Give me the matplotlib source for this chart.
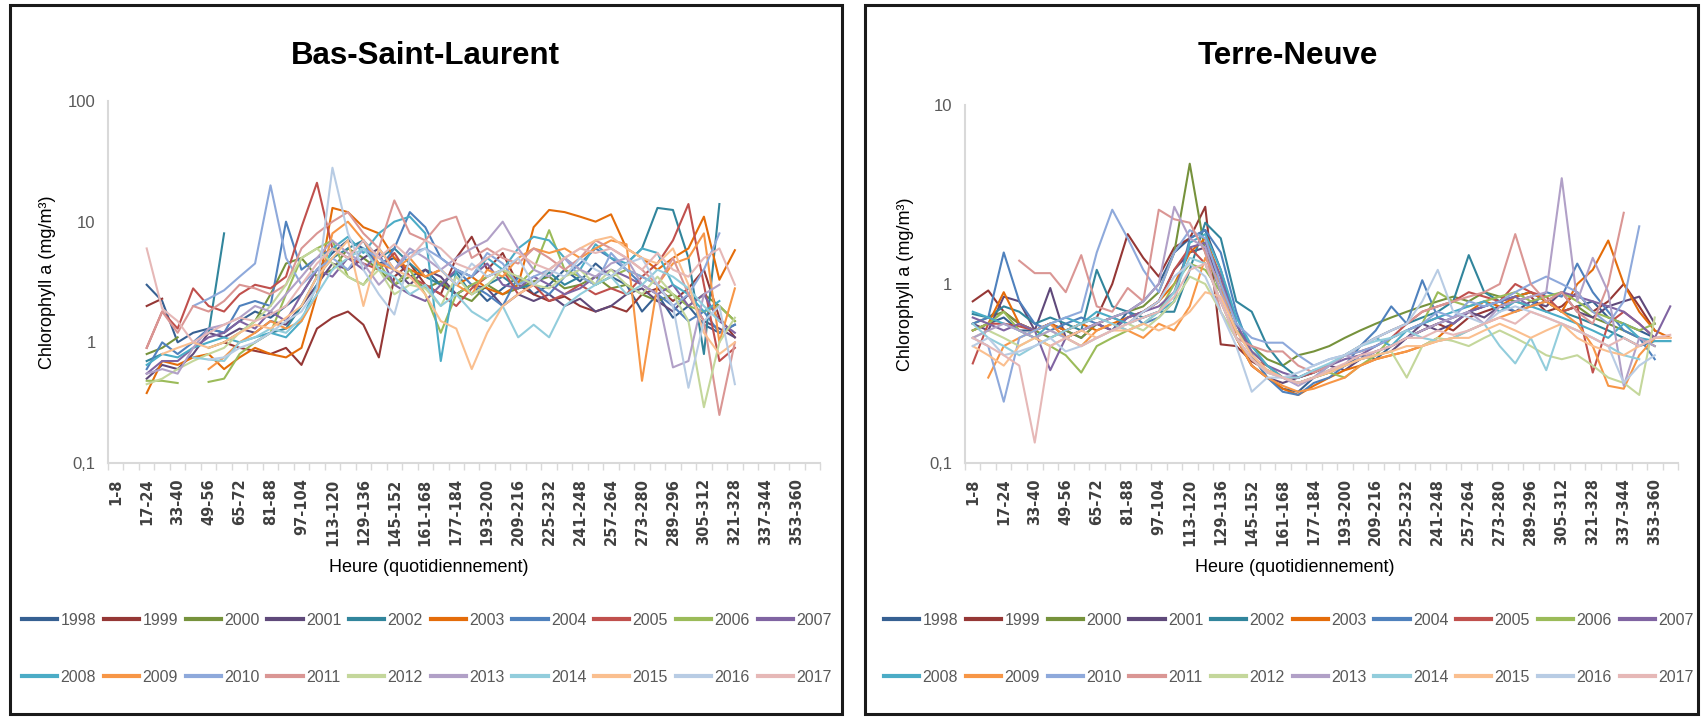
import numpy as np
import matplotlib
matplotlib.use("Agg")
import matplotlib.pyplot as plt
from matplotlib.patches import Rectangle
from matplotlib.ticker import NullLocator

# 8-day periods on the x axis
periods = ['1-8', '9-16', '17-24', '25-32', '33-40', '41-48', '49-56', '57-64',
           '65-72', '73-80', '81-88', '89-96', '97-104', '105-112', '113-120',
           '121-128', '129-136', '137-144', '145-152', '153-160', '161-168',
           '169-176', '177-184', '185-192', '193-200', '201-208', '209-216',
           '217-224', '225-232', '233-240', '241-248', '249-256', '257-264',
           '265-272', '273-280', '281-288', '289-296', '297-304', '305-312',
           '313-320', '321-328', '329-336', '337-344', '345-352', '353-360',
           '361-366']

years = ['1998', '1999', '2000', '2001', '2002', '2003', '2004', '2005', '2006', '2007',
         '2008', '2009', '2010', '2011', '2012', '2013', '2014', '2015', '2016', '2017']

colors = ['#366092', '#953735', '#76923C', '#5F497A', '#31859C', '#E46C0A', '#4F81BD',
          '#C0504D', '#9BBB59', '#8064A2', '#4BACC6', '#F79646', '#8EA9DB', '#DA9694',
          '#C4D79B', '#B1A0C7', '#92CDDC', '#FABF8F', '#B8CCE4', '#E6B8B7']

# ---- Bas-Saint-Laurent, periods 17-24 (index 2) to 321-328 (index 40) ----
bsl_start = 2
bsl_1998 = [3.0, 2.2, 1.0, 1.2, 1.3, 1.2, 1.5, 1.8, 1.6, 2.0,
            2.5, 4.0, 5.5, 7.0, 6.0, 4.5, 5.0, 3.5, 4.0, 3.0,
            2.5, 3.0, 2.2, 2.8, 3.5, 2.5, 3.0, 4.0, 3.2, 4.5,
            3.5, 3.0, 1.8, 2.5, 1.6, 2.0, 1.4, 1.2, 1.4]
bsl_1999 = [2.0, 2.3, None, None, None, 1.0, 0.9, 0.85, 0.8, 0.9,
            0.65, 1.3, 1.6, 1.8, 1.4, 0.75, 3.5, 4.5, 3.0, 2.5,
            5.0, 7.5, 4.0, 5.5, 3.0, 2.5, 2.2, 2.4, 2.0, 1.8,
            2.0, 1.8, 2.5, 2.8, 2.2, 2.8, 4.0, 1.6, 1.1]
bsl_2000 = [0.8, 0.9, 1.1, None, 0.9, 1.0, 1.2, 1.5, 2.5, 4.5,
            5.0, 3.5, 4.0, 6.0, 5.0, 4.0, 3.0, 3.5, 2.8, 3.2,
            2.5, 2.2, 3.0, 2.5, 2.8, 3.2, 3.5, 2.8, 3.0, 3.5,
            2.8, 3.0, 2.5, 2.2, 2.5, 2.0, 2.5, 2.0, 1.5]
bsl_2001 = [0.5, 0.65, 0.6, 0.8, 1.2, 1.1, 1.3, 1.2, 1.5, 1.4,
            2.0, 3.0, 4.5, 4.0, 5.0, 6.0, 4.0, 3.0, 4.0, 3.5,
            2.5, 3.0, 2.8, 2.0, 2.5, 2.2, 2.5, 2.0, 2.3, 1.8,
            2.0, 2.5, 2.8, 2.2, 1.8, 2.5, 1.5, 1.3, 1.1]
bsl_2002 = [0.7, 0.8, None, None, 1.2, 8.0, None, 1.0, 1.2, 1.3,
            2.0, 3.5, 5.0, 6.0, 7.0, 5.0, 6.0, 4.5, 3.5, 3.0,
            3.8, 2.5, 3.0, 3.5, 2.8, 3.0, 3.8, 3.0, 3.5, 3.0,
            3.5, 4.5, 6.0, 13.0, 12.5, 5.0, 0.8, 14.0, None]
bsl_2003 = [0.38, 0.7, 0.65, 0.75, 0.8, 0.6, 0.75, 0.9, 0.8, 0.75,
            0.9, 2.5, 13.0, 12.0, 9.0, 8.0, 5.0, 4.0, 3.5, 4.0,
            3.0, 3.5, 2.8, 2.5, 3.0, 9.0, 12.5, 12.0, 11.0, 10.0,
            11.5, 6.0, 5.0, 4.0, 5.0, 6.0, 11.0, 3.3, 5.8]
bsl_2004 = [0.6, 1.0, 0.8, 1.0, 1.3, 1.2, 2.0, 2.2, 2.0, 10.0,
            4.0, 5.0, 6.0, 5.0, 7.0, 4.0, 6.0, 12.0, 9.0, 5.0,
            4.0, 3.0, 2.5, 2.0, 3.5, 3.0, 2.5, 3.5, 4.5, 6.0,
            5.0, 4.0, 3.0, 2.5, 2.0, 1.5, 1.8, 1.2, 1.4]
bsl_2005 = [0.9, 1.8, 1.3, 2.8, 2.0, 1.8, 2.5, 3.0, 2.8, 3.5,
            9.0, 21.0, 6.0, 5.0, 4.5, 4.0, 5.5, 3.5, 3.0, 2.5,
            2.0, 2.8, 3.5, 4.0, 2.5, 3.0, 2.2, 2.5, 3.0, 2.5,
            2.8, 2.5, 3.5, 4.5, 7.0, 14.0, 3.0, 0.7, 0.9]
bsl_2006 = [0.48, 0.48, 0.46, None, 0.47, 0.5, 0.8, 1.0, 1.2, 2.5,
            5.0, 6.0, 7.0, 3.5, 3.0, 4.5, 3.0, 4.0, 2.5, 1.2,
            2.5, 3.0, 3.5, 4.0, 3.0, 4.0, 8.5, 4.0, 3.5, 3.0,
            3.5, 4.0, 3.5, 3.0, 2.5, 2.0, 1.8, 2.0, 1.5]
bsl_2007 = [0.55, 0.7, 0.7, 0.9, 1.1, 1.2, 1.5, 1.3, 1.8, 1.5,
            2.5, 4.0, 3.5, 5.0, 4.0, 5.5, 3.0, 2.5, 2.2, 3.0,
            4.0, 3.5, 4.5, 3.0, 2.8, 3.5, 3.0, 2.5, 2.8, 3.5,
            4.0, 3.5, 3.0, 2.5, 3.0, 2.0, 2.5, 1.5, 1.2]
bsl_2008 = [0.65, 0.8, 0.75, 0.9, 1.0, 1.1, 1.0, 1.1, 1.2, 1.1,
            1.5, 3.0, 6.0, 7.5, 5.5, 8.0, 10.0, 11.0, 8.0, 0.7,
            4.0, 3.5, 5.0, 4.0, 6.0, 7.5, 7.0, 5.0, 4.0, 6.5,
            5.0, 4.5, 6.0, 5.5, 3.0, 2.5, 1.8, 2.2, None]
bsl_2009 = [None, None, None, None, 0.6, 0.75, 1.0, 1.2, 1.5, 1.3,
            1.5, 2.5, 8.0, 10.0, 7.0, 4.5, 4.0, 5.0, 3.5, 4.0,
            3.0, 2.5, 4.0, 3.5, 5.0, 6.0, 5.5, 6.0, 5.0, 6.0,
            7.0, 6.5, 0.48, 3.0, 4.5, 5.0, 8.0, 1.0, 2.8]
bsl_2010 = [None, None, None, 2.0, 2.3, 2.7, 3.5, 4.5, 20.0, 5.0,
            3.0, 4.0, 5.0, 4.0, 6.0, 5.0, 4.0, 5.5, 6.0, 5.0,
            4.0, 3.5, 5.5, 4.5, 3.0, 3.5, 4.0, 5.0, 3.5, 3.0,
            5.5, 4.0, 3.5, 3.0, 2.0, 2.5, 4.0, 8.0, None]
bsl_2011 = [0.9, 1.8, 1.2, 2.0, 1.8, 2.2, 3.0, 2.8, 2.5, 3.0,
            6.0, 8.0, 10.0, 12.0, 8.0, 6.0, 15.0, 8.0, 7.0, 10.0,
            11.0, 5.0, 6.0, 5.0, 4.5, 6.0, 5.0, 4.0, 5.0, 7.0,
            6.0, 5.0, 4.0, 3.0, 5.0, 2.5, 1.5, 0.25, 1.0]
bsl_2012 = [0.45, 0.5, 0.6, 0.7, 0.8, 0.9, 1.2, 1.5, 2.0, 3.0,
            5.0, 6.0, 4.5, 3.5, 3.0, 4.0, 2.5, 3.0, 2.8, 2.0,
            3.5, 2.5, 3.0, 4.0, 3.5, 3.0, 2.8, 3.5, 4.0, 3.0,
            4.0, 3.0, 2.5, 3.5, 2.5, 1.5, 0.29, 1.0, 1.6]
bsl_2013 = [0.55, 0.6, 0.55, 0.9, 1.3, 1.4, 1.6, 2.0, 1.8, 2.5,
            3.5, 5.0, 7.0, 5.5, 4.5, 3.0, 4.0, 6.0, 5.0, 4.0,
            5.0, 6.0, 7.0, 10.0, 6.0, 4.0, 3.5, 5.0, 4.0, 3.5,
            4.5, 5.0, 3.0, 2.5, 0.62, 0.7, 2.5, 3.0, None]
bsl_2014 = [None, None, None, 0.75, 0.72, 0.7, 1.0, 1.1, 1.3, 1.2,
            1.6, 2.5, 4.0, 5.0, 6.0, 4.0, 3.5, 2.5, 3.0, 2.0,
            2.5, 1.8, 1.5, 2.0, 1.1, 1.4, 1.1, 2.0, 2.5, 3.0,
            3.5, 2.5, 3.0, 4.0, 3.5, 2.8, 2.0, 1.5, None]
bsl_2015 = [None, 0.8, 0.9, 1.0, 0.9, 1.0, 1.2, 1.4, 1.3, 1.6,
            2.0, 3.5, 5.0, 7.0, 2.0, 6.0, 4.0, 3.5, 2.5, 1.5,
            1.3, 0.6, 1.2, 2.0, 2.5, 3.0, 4.0, 5.0, 6.0, 7.0,
            7.5, 6.0, 5.0, 4.5, 6.0, 3.0, 1.2, 0.8, 1.0]
bsl_2016 = [None, None, None, None, 0.72, 0.75, 0.9, 1.0, 1.2, 1.5,
            1.8, 2.8, 28.0, 8.0, 4.0, 2.5, 1.7, 5.0, 6.0, 4.0,
            3.0, 4.5, 3.5, 4.0, 5.0, 3.0, 4.0, 3.5, 5.0, 4.0,
            3.5, 4.5, 5.0, 3.0, 2.0, 0.42, 1.5, 2.0, 0.45]
bsl_2017 = [6.0, 1.9, 1.5, 1.0, 1.2, 1.4, 1.6, 1.5, 1.7, 2.0,
            3.0, 4.5, 6.0, 5.0, 7.0, 5.0, 6.5, 5.0, 7.0, 6.0,
            4.5, 4.0, 5.0, 6.0, 5.5, 4.5, 4.0, 5.0, 6.0, 5.5,
            6.0, 5.0, 4.0, 5.5, 4.0, 3.5, 5.0, 6.0, 3.0]

# ---- Terre-Neuve, all 46 periods ----
tn_start = 0
tn_1998 = [0.55, 0.6, 0.65, 0.55, 0.55, 0.6, 0.55, 0.5, 0.6, 0.55,
           0.7, 0.8, 1.0, 1.5, 1.8, 2.0, 1.2, 0.6, 0.4, 0.3,
           0.26, 0.25, 0.3, 0.32, 0.35, 0.4, 0.38, 0.45, 0.5, 0.55,
           0.6, 0.65, 0.7, 0.75, 0.8, 0.85, 0.9, 0.8, 0.7, 0.75,
           0.8, 0.65, 0.6, 0.55, 0.5, None]
tn_1999 = [0.8, 0.92, 0.7, 0.6, 0.55, 0.6, 0.55, 0.6, 0.65, 1.0,
           1.9, 1.4, 1.1, 1.6, 1.8, 2.7, 0.46, 0.45, 0.37, 0.33,
           0.3, 0.28, 0.3, 0.33, 0.35, 0.38, 0.42, 0.45, 0.5, 0.55,
           0.6, 0.55, 0.65, 0.7, 0.75, 0.8, 0.85, 0.7, 0.75, 0.9,
           0.7, 0.8, 1.0, 0.75, 0.55, None]
tn_2000 = [0.6, 0.65, 0.7, 0.6, 0.55, 0.5, 0.55, 0.5, 0.6, 0.65,
           0.7, 0.75, 0.9, 1.5, 4.7, 1.5, 0.9, 0.55, 0.45, 0.38,
           0.35, 0.4, 0.42, 0.45, 0.5, 0.55, 0.6, 0.65, 0.7, 0.75,
           0.8, 0.85, 0.8, 0.9, 0.85, 0.8, 0.75, 0.8, 0.7, 0.75,
           0.65, 0.6, 0.55, 0.5, 0.45, None]
tn_2001 = [0.6, 0.55, 0.85, 0.8, 0.55, 0.95, 0.5, 0.55, 0.6, 0.55,
           0.65, 0.7, 0.8, 1.2, 1.5, 1.6, 1.0, 0.5, 0.35, 0.3,
           0.28, 0.3, 0.32, 0.35, 0.33, 0.38, 0.4, 0.42, 0.5, 0.6,
           0.55, 0.6, 0.7, 0.65, 0.75, 0.7, 0.8, 0.75, 0.9, 0.7,
           0.65, 0.75, 0.8, 0.85, 0.6, None]
tn_2002 = [0.68, 0.65, 0.75, 0.7, 0.6, 0.65, 0.6, 0.55, 1.2, 0.75,
           0.7, 0.65, 0.7, 0.7, 1.2, 2.2, 1.8, 0.8, 0.7, 0.45,
           0.35, 0.3, 0.32, 0.35, 0.4, 0.45, 0.5, 0.55, 0.6, 0.65,
           0.7, 0.8, 1.45, 0.9, 0.8, 0.85, 0.9, 0.8, 0.7, 0.65,
           0.6, 0.55, 0.5, 0.45, 0.48, 0.48]
tn_2003 = [0.55, 0.6, 0.9, 0.6, 0.55, 0.6, 0.55, 0.6, 0.55, 0.6,
           0.65, 0.7, 0.8, 1.0, 1.5, 1.8, 1.1, 0.5, 0.35, 0.3,
           0.26, 0.24, 0.27, 0.3, 0.33, 0.35, 0.38, 0.4, 0.42, 0.45,
           0.5, 0.6, 0.7, 0.8, 0.75, 0.85, 0.9, 0.8, 0.7, 1.0,
           1.2, 1.75, 1.0, 0.7, 0.55, 0.5]
tn_2004 = [0.6, 0.65, 1.5, 0.8, 0.6, 0.55, 0.6, 0.65, 0.6, 0.65,
           0.7, 0.6, 0.65, 0.8, 1.8, 2.0, 1.5, 0.7, 0.4, 0.3,
           0.25, 0.24, 0.28, 0.3, 0.35, 0.45, 0.55, 0.75, 0.6, 1.05,
           0.65, 0.6, 0.7, 0.75, 0.8, 0.7, 0.75, 0.9, 0.85, 1.3,
           0.9, 0.7, 0.55, 0.5, 0.38, None]
tn_2005 = [0.36, 0.6, 0.6, 0.58, 0.55, 0.6, 0.5, 0.55, 0.6, 0.65,
           0.6, 0.7, 0.8, 1.2, 1.6, 1.3, 0.8, 0.5, 0.38, 0.35,
           0.3, 0.3, 0.32, 0.35, 0.4, 0.42, 0.45, 0.5, 0.6, 0.7,
           0.75, 0.8, 0.9, 0.85, 0.8, 1.0, 0.9, 0.85, 0.7, 0.75,
           0.32, 0.6, 0.7, 0.6, 0.5, None]
tn_2006 = [0.55, 0.6, 0.7, 0.55, 0.5, 0.45, 0.4, 0.32, 0.45, 0.5,
           0.55, 0.6, 0.7, 1.0, 1.3, 1.2, 0.9, 0.55, 0.42, 0.35,
           0.3, 0.28, 0.3, 0.32, 0.3, 0.35, 0.4, 0.5, 0.55, 0.6,
           0.9, 0.8, 0.75, 0.8, 0.85, 0.9, 0.8, 0.85, 0.9, 0.8,
           0.7, 0.65, 0.6, 0.55, 0.6, None]
tn_2007 = [0.65, 0.6, 0.55, 0.6, 0.55, 0.33, 0.5, 0.55, 0.6, 0.55,
           0.65, 0.7, 0.75, 0.9, 1.6, 1.7, 1.1, 0.6, 0.42, 0.35,
           0.32, 0.3, 0.33, 0.35, 0.38, 0.4, 0.45, 0.5, 0.55, 0.6,
           0.65, 0.6, 0.7, 0.75, 0.8, 0.85, 0.75, 0.8, 0.9, 0.85,
           0.8, 0.75, 0.7, 0.6, 0.5, 0.75]
tn_2008 = [0.7, 0.65, 0.6, 0.55, 0.5, 0.6, 0.65, 0.6, 0.7, 0.65,
           0.6, 0.65, 0.7, 0.8, 1.7, 1.9, 1.2, 0.65, 0.45, 0.35,
           0.3, 0.28, 0.3, 0.35, 0.4, 0.45, 0.5, 0.45, 0.55, 0.6,
           0.65, 0.7, 0.75, 0.8, 0.7, 0.8, 0.75, 0.7, 0.65, 0.6,
           0.55, 0.5, 0.6, 0.5, 0.48, 0.48]
tn_2009 = [None, 0.3, 0.45, 0.5, 0.55, 0.6, 0.5, 0.45, 0.55, 0.6,
           0.55, 0.5, 0.6, 0.55, 0.75, 1.4, 1.0, 0.5, 0.35, 0.3,
           0.27, 0.25, 0.26, 0.28, 0.3, 0.35, 0.38, 0.4, 0.42, 0.45,
           0.48, 0.5, 0.55, 0.6, 0.65, 0.7, 0.75, 0.8, 0.7, 0.6,
           0.45, 0.27, 0.26, 0.4, 0.5, 0.5]
tn_2010 = [0.5, 0.45, 0.22, 0.5, 0.55, 0.6, 0.65, 0.7, 1.5, 2.6,
           1.8, 1.2, 0.9, 1.5, 2.0, 1.8, 1.0, 0.6, 0.5, 0.47,
           0.47, 0.4, 0.35, 0.38, 0.4, 0.42, 0.45, 0.5, 0.55, 0.6,
           0.7, 0.65, 0.8, 0.75, 0.8, 0.9, 1.0, 1.1, 1.0, 0.9,
           0.7, 0.6, 0.8, 2.1, None, None]
tn_2011 = [None, None, None, 1.35, 1.15, 1.15, 0.9, 1.45, 0.75, 0.7,
           0.95, 0.8, 2.6, 2.3, 2.2, 1.5, 0.7, 0.5, 0.45, 0.42,
           0.42, 0.35, 0.32, 0.35, 0.4, 0.45, 0.5, 0.55, 0.6, 0.7,
           0.75, 0.8, 0.85, 0.9, 1.0, 1.9, 1.0, 0.8, 0.9, 0.7,
           0.6, 1.0, 2.5, None, None, None]
tn_2012 = [0.5, 0.55, 0.5, 0.45, 0.5, 0.55, 0.5, 0.45, 0.5, 0.55,
           0.6, 0.55, 0.65, 0.8, 1.1, 1.0, 0.7, 0.5, 0.38, 0.32,
           0.3, 0.28, 0.3, 0.33, 0.35, 0.38, 0.4, 0.42, 0.3, 0.45,
           0.5, 0.48, 0.45, 0.5, 0.55, 0.5, 0.45, 0.4, 0.38, 0.4,
           0.35, 0.3, 0.28, 0.24, 0.65, None]
tn_2013 = [0.5, 0.55, 0.6, 0.55, 0.5, 0.55, 0.5, 0.55, 0.6, 0.65,
           0.7, 0.8, 1.0, 2.7, 1.8, 1.6, 0.9, 0.55, 0.4, 0.33,
           0.3, 0.27, 0.3, 0.35, 0.4, 0.38, 0.42, 0.45, 0.5, 0.55,
           0.6, 0.65, 0.7, 0.6, 0.75, 0.8, 0.85, 0.9, 3.9, 0.8,
           1.4, 0.9, 0.27, 0.5, 0.45, None]
tn_2014 = [0.6, 0.5, 0.45, 0.4, 0.45, 0.5, 0.55, 0.6, 0.65, 0.6,
           0.55, 0.6, 0.7, 0.9, 1.4, 1.3, 0.8, 0.5, 0.38, 0.32,
           0.3, 0.3, 0.33, 0.36, 0.4, 0.45, 0.48, 0.5, 0.55, 0.5,
           0.48, 0.5, 0.55, 0.6, 0.45, 0.36, 0.5, 0.33, 0.6, 0.55,
           0.5, 0.45, 0.4, 0.38, None, None]
tn_2015 = [0.45, 0.4, 0.35, 0.45, 0.5, 0.45, 0.5, 0.55, 0.5, 0.55,
           0.55, 0.6, 0.55, 0.6, 0.7, 0.9, 0.85, 0.55, 0.4, 0.33,
           0.3, 0.28, 0.3, 0.32, 0.35, 0.38, 0.4, 0.42, 0.45, 0.45,
           0.48, 0.5, 0.5, 0.55, 0.6, 0.55, 0.5, 0.55, 0.6, 0.5,
           0.45, 0.42, 0.4, 0.45, 0.5, 0.5]
tn_2016 = [0.45, 0.5, 0.4, 0.42, 0.45, 0.5, 0.42, 0.45, 0.5, 0.55,
           0.6, 0.7, 0.8, 1.1, 1.3, 1.1, 0.7, 0.45, 0.25, 0.3,
           0.3, 0.32, 0.35, 0.38, 0.4, 0.45, 0.5, 0.55, 0.6, 0.8,
           1.2, 0.7, 0.65, 0.6, 0.7, 0.75, 0.7, 0.65, 0.6, 0.55,
           0.5, 0.45, 0.28, 0.35, 0.4, None]
tn_2017 = [0.5, 0.45, 0.4, 0.35, 0.13, 0.45, 0.5, 0.45, 0.5, 0.55,
           0.6, 0.65, 0.7, 0.85, 1.2, 1.3, 0.8, 0.5, 0.38, 0.32,
           0.3, 0.28, 0.3, 0.33, 0.36, 0.4, 0.42, 0.45, 0.5, 0.5,
           0.55, 0.52, 0.55, 0.6, 0.65, 0.6, 0.7, 0.65, 0.6, 0.55,
           0.5, 0.45, 0.5, 0.45, 0.5, 0.52]

bsl = [bsl_1998, bsl_1999, bsl_2000, bsl_2001, bsl_2002, bsl_2003, bsl_2004,
       bsl_2005, bsl_2006, bsl_2007, bsl_2008, bsl_2009, bsl_2010, bsl_2011,
       bsl_2012, bsl_2013, bsl_2014, bsl_2015, bsl_2016, bsl_2017]
tn = [tn_1998, tn_1999, tn_2000, tn_2001, tn_2002, tn_2003, tn_2004,
      tn_2005, tn_2006, tn_2007, tn_2008, tn_2009, tn_2010, tn_2011,
      tn_2012, tn_2013, tn_2014, tn_2015, tn_2016, tn_2017]

W, H = 1703, 717
plt.rcParams['font.family'] = ['Liberation Sans', 'DejaVu Sans']

fig = plt.figure(figsize=(W / 100, H / 100), dpi=100)


def px(x, y):
    # pixel position (from top-left) -> figure fraction
    return x / W, 1 - y / H


def panel(series, start, ymax, yticks, ylabels, rect, box, title, title_x, xlab_x, leg_x):
    l, t, r, b = rect
    ax = fig.add_axes([l / W, 1 - b / H, (r - l) / W, (b - t) / H])
    for vals, col, yr in zip(series, colors, years):
        y = np.array(vals, dtype=float)
        x = np.arange(len(y)) + start
        ax.plot(x, y, color=col, lw=1.5, label=yr, solid_joinstyle='round')

    ax.set_yscale('log')
    ax.set_ylim(0.1, ymax)
    ax.set_xlim(-0.5, len(periods) - 0.5)
    ax.set_yticks(yticks)
    ax.set_yticklabels(ylabels)
    ax.yaxis.set_minor_locator(NullLocator())
    ax.tick_params(axis='y', length=0, pad=9, labelsize=12, labelcolor='#595959')

    ax.set_xticks(np.arange(len(periods)))
    ax.set_xticklabels([p if i % 2 == 0 else '' for i, p in enumerate(periods)],
                       rotation=90, fontsize=10.5, fontweight='bold',
                       family='DejaVu Sans', color='#404040')
    ax.set_xticks(np.arange(-0.5, len(periods), 1), minor=True)
    ax.tick_params(axis='x', which='major', length=0, pad=11)
    ax.tick_params(axis='x', which='minor', length=5, width=1, color='#D9D9D9')

    for s in ['top', 'right']:
        ax.spines[s].set_visible(False)
    for s in ['left', 'bottom']:
        ax.spines[s].set_color('#D9D9D9')
        ax.spines[s].set_linewidth(1.5)

    fig.text(*px(title_x, 56), title, ha='center', va='center',
             fontsize=22.5, fontweight='bold')
    fig.text(*px(l - 60, (t + b) / 2), 'Chlorophyll a (mg/m³)', rotation=90,
             ha='center', va='center', fontsize=13)
    fig.text(*px(xlab_x, 567), 'Heure (quotidiennement)', ha='center',
             va='center', fontsize=13)

    # legend: two rows of ten, filled row by row
    h, lab = ax.get_legend_handles_labels()
    order = []
    for c in range(10):
        order += [c, c + 10]
    leg = ax.legend([h[i] for i in order], [lab[i] for i in order], ncol=10,
                    loc='upper left', bbox_to_anchor=px(leg_x, 613),
                    bbox_transform=fig.transFigure, frameon=False, fontsize=11.5,
                    handlelength=2.2, handletextpad=0.2, columnspacing=0.5,
                    labelspacing=2.6, borderpad=0, borderaxespad=0)
    for line in leg.get_lines():
        line.set_linewidth(3)
    for txt in leg.get_texts():
        txt.set_color('#595959')

    bx0, by0, bx1, by1 = box
    fig.patches.append(Rectangle(px(bx0, by1), (bx1 - bx0) / W, (by1 - by0) / H,
                                 transform=fig.transFigure, fill=False,
                                 edgecolor='#1a1a1a', lw=2.2))
    return ax


panel(bsl, bsl_start, 100, [0.1, 1, 10, 100], ['0,1', '1', '10', '100'],
      (108, 101, 820, 463), (10, 5, 842, 714), 'Bas-Saint-Laurent', 425, 429, 22)
panel(tn, tn_start, 10, [0.1, 1, 10], ['0,1', '1', '10'],
      (965, 105, 1678, 463), (865, 5, 1698, 714), 'Terre-Neuve', 1288, 1295, 884)

fig.savefig('out.png', dpi=100)
